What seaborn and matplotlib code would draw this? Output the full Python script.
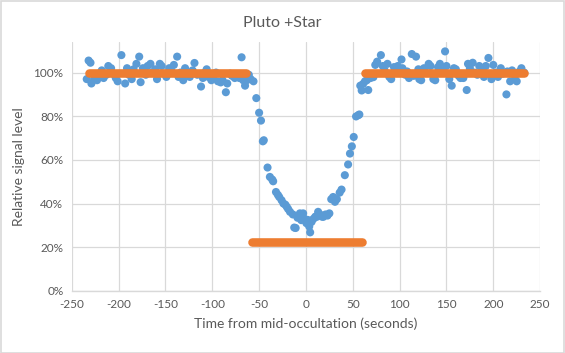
import numpy as np
import pandas as pd
import matplotlib
matplotlib.use("Agg")
import matplotlib.pyplot as plt
import seaborn as sns
from matplotlib.ticker import PercentFormatter, MultipleLocator

# observed signal: time (s) and relative level (%)
time_s = [
    -234, -232, -230, -229, -226, -223, -221, -218, -216, -213, -211, -208, -206,
    -203, -201, -197, -193, -191, -189, -186, -184, -181, -178, -176.5, -174, -171,
    -169, -166, -164, -161, -159, -156, -154, -151, -149, -146, -144, -141, -137.5,
    -136, -134, -131, -129, -126, -124, -121, -119, -116, -112, -110, -108, -106,
    -104, -101, -99, -96, -94, -91, -89, -85.5, -84, -81, -79, -76, -74, -71,
    -68.7, -67, -65, -63, -61, -59,
    -56, -53, -50, -48, -46, -45, -41, -38.5, -36, -35, -32, -30, -28.5, -26, -24,
    -22, -20.5, -19, -17, -14, -12.5, -11, -9, -6.5, -5, -3, -1.5, 0.5, 2, 3.5,
    4.5, 6, 8, 10, 11.5, 13, 15, 17, 18.5, 21, 23, 25, 27, 29, 31, 33, 36,
    38, 41.5, 45, 47, 49, 51, 53.5, 56, 57, 58, 59.5, 61, 63,
    65, 66.5, 69, 72,
    74, 76, 80, 82, 84, 87, 89, 91, 94, 96,
    98, 102, 103, 106, 108, 110, 113, 115, 117.5, 120,
    121, 123, 126, 128, 131, 133, 136, 138, 141, 143,
    146, 148.5, 150, 153, 155.6, 158, 160, 163, 165, 168,
    171.6, 173, 175, 178, 180, 183, 185, 188, 190, 192,
    194.8, 198, 200, 203, 205, 208, 210, 214, 215, 218,
    220, 223, 225, 228, 230, 233,
]
signal_pct = [
    97, 105.5, 104.5, 95, 97, 96.5, 98, 101, 97.5, 99, 103, 102, 99.5,
    97.5, 96, 108, 95, 102, 99, 97, 101.5, 104, 107.3, 95.6, 102, 99,
    103, 104, 100, 101.5, 97, 104, 103, 99.5, 98, 102, 101, 103.5, 107.3,
    98, 100, 96.5, 102, 99, 98, 101, 104.4, 99, 93.6, 97.5, 100, 101.5,
    98, 96.5, 97.5, 100, 96, 95.5, 96.5, 91, 95, 99.5, 98.5, 97.5, 99, 97.5,
    107, 96.5, 94, 96.5, 99, 97,
    96, 88.3, 81.6, 78, 68.5, 69, 56.5, 52.2, 51, 50.2, 45.3, 44, 43, 41.5, 40,
    39.5, 38.5, 37.5, 36.2, 35, 29, 28.8, 33.5, 35.5, 32.4, 35.5, 33, 31, 32.5, 29.5,
    26.8, 31.6, 33, 34, 33.9, 36.2, 35, 34, 33.9, 35, 34.5, 35.5, 42, 43, 40.8, 42, 45,
    46.4, 53, 57.9, 62.9, 66.2, 70.5, 79.9, 80.5, 80.8, 94, 91.8, 94.8, 96,
    96.5, 92, 97.5, 97.9,
    103.5, 105, 108, 103, 101, 104, 98, 97, 102.5, 101,
    103, 106, 102, 99, 100.5, 97.5, 108.5, 98.5, 107.3, 101.5,
    97, 96.5, 102, 100, 104, 103, 97, 96.5, 102.5, 104,
    101, 109.7, 103, 97, 94, 102, 101.5, 98.5, 97.5, 97.5,
    92, 104, 102, 104.5, 100, 99, 103, 102, 98, 103,
    106.7, 97, 103.5, 100, 98, 102, 99.5, 90, 100.5, 96,
    101, 97, 96, 100.5, 102, 100,
]

# model (step): start, end, level
model_start = [-232, -58, 63]
model_end = [-64, 60, 233]
model_level = [100, 22.5, 100]

obs = pd.DataFrame({"t": time_s, "v": signal_pct})
model = pd.DataFrame({
    "t": model_start + model_end,
    "v": model_level + model_level,
    "seg": [0, 1, 2, 0, 1, 2],
})

sns.set_theme(style="white")
plt.rcParams["font.family"] = ["Lato", "DejaVu Sans"]
plt.rcParams["axes.unicode_minus"] = False

blue = "#5B9BD5"
orange = "#ED7D31"
grey_txt = "#595959"
grid_c = "#D9D9D9"

fig = plt.figure(figsize=(5.65, 3.53), dpi=100)
ax = fig.add_axes([0.127, 0.176, 0.829, 0.705])

sns.scatterplot(data=obs, x="t", y="v", ax=ax, color=blue, s=34,
                edgecolor="none", zorder=3)
sns.lineplot(data=model, x="t", y="v", units="seg", estimator=None, ax=ax,
             color=orange, linewidth=6.2, solid_capstyle="round", zorder=4)

ax.set_xlim(-250, 250)
ax.set_ylim(0, 114)
ax.xaxis.set_major_locator(MultipleLocator(50))
ax.set_yticks([0, 20, 40, 60, 80, 100])
ax.yaxis.set_major_formatter(PercentFormatter(100, decimals=0))
ax.grid(True, color=grid_c, linewidth=0.9)
ax.set_axisbelow(True)
for side in ["top", "right", "left"]:
    ax.spines[side].set_visible(False)
ax.spines["bottom"].set_color(grid_c)
ax.spines["bottom"].set_linewidth(1.0)
ax.tick_params(axis="both", length=0, labelsize=8.5, colors=grey_txt, pad=6)

ax.set_xlabel("Time from mid-occultation (seconds)", fontsize=10, color=grey_txt, labelpad=5)
ax.set_ylabel("Relative signal level", fontsize=10, color=grey_txt, labelpad=6)
fig.text(0.5, 0.935, "Pluto +Star", ha="center", va="center", fontsize=11.5, color=grey_txt)

fig.patches.append(plt.Rectangle((0.001, 0.001), 0.997, 0.996, transform=fig.transFigure,
                                 fill=False, edgecolor=grid_c, linewidth=1.2))

fig.savefig("out.png", dpi=100)
